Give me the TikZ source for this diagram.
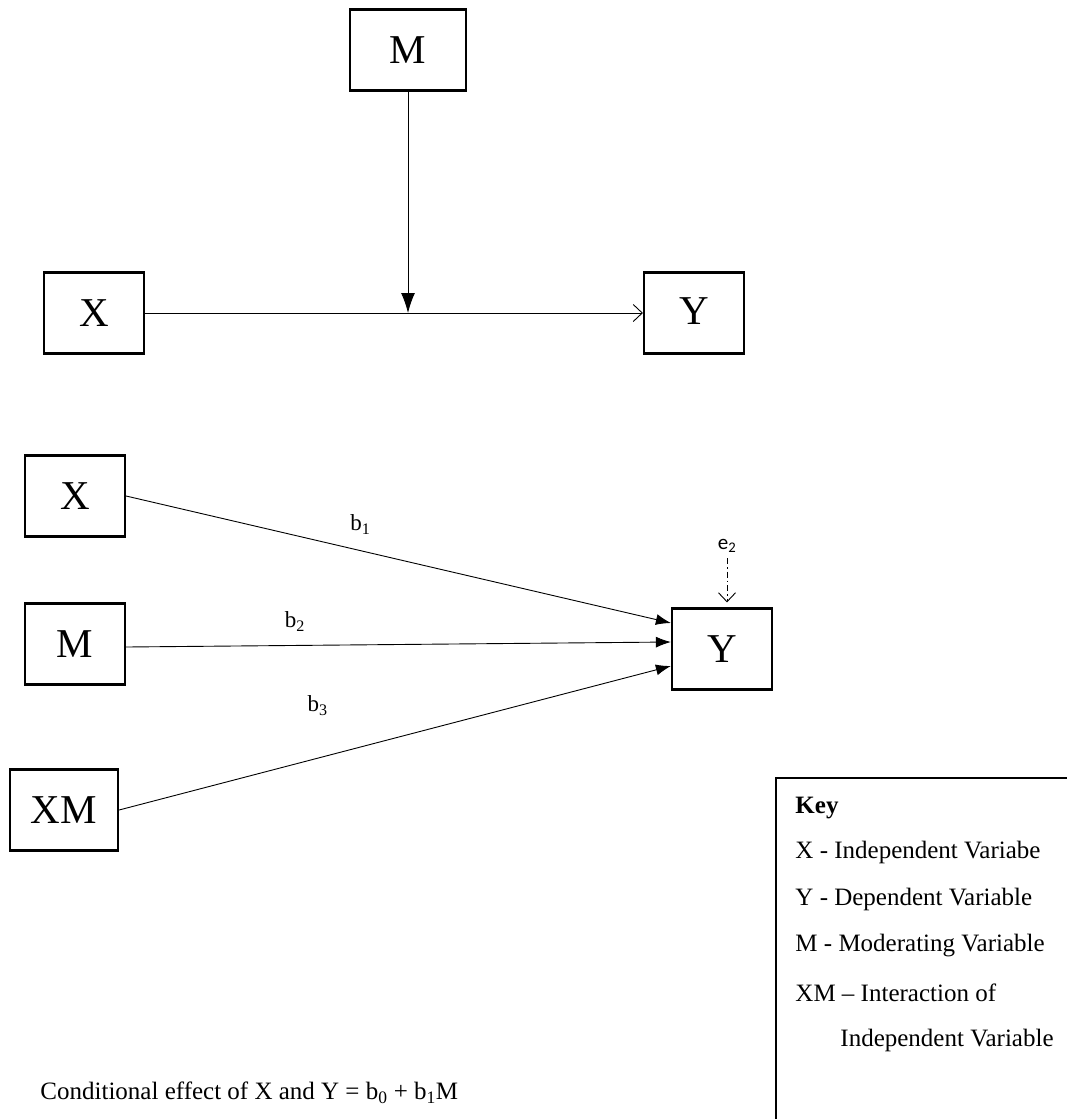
\documentclass[tikz,border=0pt]{standalone}
\usepackage{fontspec}
\setmainfont{Liberation Serif}
\newfontfamily\errfont{Carlito}
\usetikzlibrary{arrows.meta}
\tikzset{> = {Latex[length=15pt,width=11pt]}, every picture/.style={line width=0.9pt},
  varbox/.style={draw, line width=2.2pt, minimum width=100pt, minimum height=81pt, inner sep=0pt, font=\fontsize{41}{43}\selectfont},
  keytext/.style={anchor=west, inner sep=0pt, font=\fontsize{25}{28}\selectfont},
  coef/.style={inner sep=0pt, font=\fontsize{23}{25}\selectfont},
  openhead/.style={-{Straight Barb[length=9pt,width=17pt]}}}

\begin{document}
\begin{tikzpicture}[x=1pt,y=-1pt]
\useasboundingbox (0,0) rectangle (1067,1119);

% moderation model
\begin{scope}
\node[varbox, minimum width=116pt] (Mt) at (408,50) {M};
\node[varbox] (Xt) at (94,313) {\raisebox{-7pt}{X}};
\node[varbox] (Yt) at (694,313) {\raisebox{3pt}{Y}};
\coordinate (mod) at (Mt.south |- Xt.east);
\end{scope}

\draw[openhead] (Xt.east) -- (Yt.west);
\draw[-{Latex[length=20pt,width=14pt]}] (Mt.south) -- (mod);

% statistical model
\begin{scope}
\node[varbox] (Xb) at (75,496) {X};
\node[varbox] (Mb) at (75,644) {M};
\node[varbox, minimum width=108pt] (XMb) at (64,810) {XM};
\node[varbox] (Yb) at (722,649) {Y};
\node[inner sep=0pt, font=\errfont\fontsize{21}{23}\selectfont] (e2) at (727,546) {e\textsubscript{2}};
\end{scope}

\draw[->] (Xb.east) -- node[coef, pos=0.43, above=16pt] {b\textsubscript{1}} ([yshift=26pt]Yb.west);
\draw[->] ([yshift=-3pt]Mb.east) -- node[coef, pos=0.31, above=14pt] {b\textsubscript{2}} ([yshift=7pt]Yb.west);
\draw[->] (XMb.east) -- node[coef, pos=0.36, above=42pt] {b\textsubscript{3}} ([yshift=-17pt]Yb.west);
\draw[openhead, dash pattern=on 6pt off 3pt on 1.5pt off 3pt, shorten <=5pt, shorten >=5pt] (e2) -- (e2 |- Yb.north);

% key
\draw[line width=1.8pt] (1067,778) -- (776,778) -- (776,1119);
\node[keytext, font=\bfseries\fontsize{25}{28}\selectfont] (key) at (795,808) {Key};
\node[keytext] (kx) at (795,852) {X - Independent Variabe};
\node[keytext] (ky) at (795,899) {Y - Dependent Variable};
\node[keytext] (km) at (795,946) {M - Moderating Variable};
\node[keytext] (kxm) at (795,993) {XM -- Interaction of};
\node[keytext] (kxm2) at (840,1040) {Independent Variable};

\node[keytext] (cond) at (40,1093) {Conditional effect of X and Y = b\textsubscript{0} + b\textsubscript{1}M};
\end{tikzpicture}
\end{document}
